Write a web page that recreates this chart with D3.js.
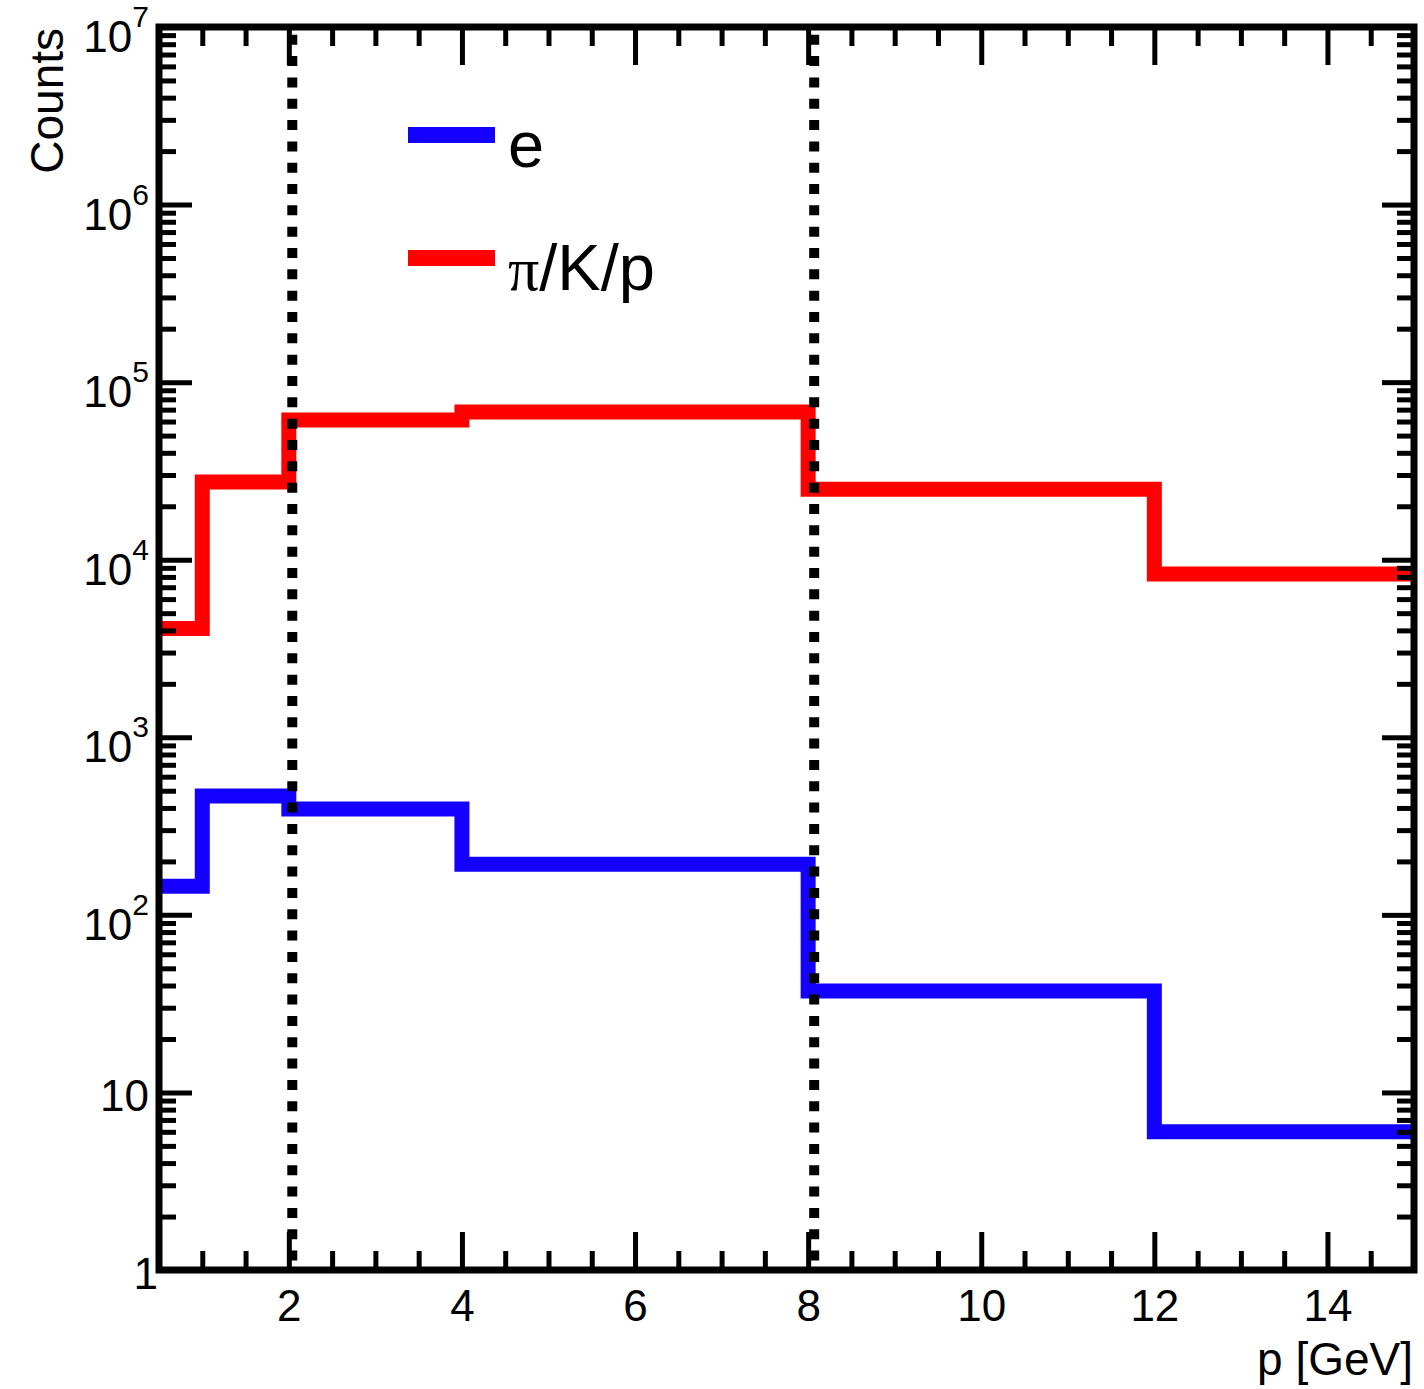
<!DOCTYPE html>
<html>
<head>
<meta charset="utf-8">
<script src="https://cdn.jsdelivr.net/npm/d3@7"></script>
<style>
  html, body { margin: 0; padding: 0; background: #fff; }
  svg { display: block; }
  text { font-family: "Liberation Sans", Arial, Helvetica, sans-serif; fill: #000; }
</style>
</head>
<body>
<svg id="chart" width="1424" height="1389"></svg>
<script>
// ---- data ----
const binEdges = [0.5, 1, 2, 4, 8, 12, 15];
const electronCounts = [145, 467, 395, 193, 37.3, 6.0];
const hadronCounts = [4100, 27400, 61200, 67900, 24900, 8300];
const seriesNames = ["e", "π/K/p"];
const cutPositions = [2.04, 8.07];
const xMajorTicks = [2, 4, 6, 8, 10, 12, 14];
const xMinorTicks = [1, 1.5, 2.5, 3, 3.5, 4.5, 5, 5.5, 6.5, 7, 7.5, 8.5, 9, 9.5, 10.5, 11, 11.5, 12.5, 13, 13.5, 14.5];
const yDecades = [0, 1, 2, 3, 4, 5, 6, 7];
const xTitle = "p [GeV]";
const yTitle = "Counts";

// ---- layout ----
const L = 159, R = 1414, T = 27, B = 1270;
const svg = d3.select("#chart");
const x = d3.scaleLinear().domain([0.5, 15]).range([L, R]);
const y = d3.scaleLog().domain([1, 1e7]).range([B, T]);

const yMinor = [];
for (let k = 0; k < 7; k++) for (let m = 2; m <= 9; m++) yMinor.push(m * Math.pow(10, k));
const yMajor = yDecades.map(k => Math.pow(10, k));

// clip
svg.append("defs").append("clipPath").attr("id", "clip")
  .append("rect").attr("x", L).attr("y", T).attr("width", R - L).attr("height", B - T);

// ---- histograms ----
const line = d3.line().x(d => x(d[0])).y(d => y(d[1])).curve(d3.curveStepAfter);
function histPoints(vals) {
  const pts = vals.map((v, i) => [binEdges[i], v]);
  pts.push([binEdges[binEdges.length - 1], vals[vals.length - 1]]);
  return pts;
}
const g = svg.append("g").attr("clip-path", "url(#clip)");
const series = [
  { vals: hadronCounts, color: "#ff0000" },
  { vals: electronCounts, color: "#1400ff" }
];
series.forEach(s => {
  g.append("path").attr("d", line(histPoints(s.vals)))
    .attr("fill", "none").attr("stroke", s.color).attr("stroke-width", 15)
    .attr("stroke-linejoin", "miter").attr("stroke-linecap", "square");
});

// ---- dotted cut lines ----
cutPositions.forEach(c => {
  g.append("line").attr("x1", x(c)).attr("x2", x(c)).attr("y1", T).attr("y2", B)
    .attr("stroke", "#000").attr("stroke-width", 10)
    .attr("stroke-dasharray", "10 11.33").attr("stroke-dashoffset", 13.6);
});

// ---- axes (ticks) ----
function styleAxis(sel) {
  sel.select(".domain").remove();
  sel.selectAll(".tick line").attr("stroke", "#000").attr("stroke-width", 5);
}
svg.append("g").attr("transform", `translate(0,${B})`)
  .call(d3.axisBottom(x).tickValues(xMinorTicks).tickSize(-19).tickFormat(""))
  .call(styleAxis);
const xb = svg.append("g").attr("transform", `translate(0,${B})`)
  .call(d3.axisBottom(x).tickValues(xMajorTicks).tickSize(-38).tickPadding(20).tickFormat(d3.format("d")))
  .call(styleAxis);
xb.selectAll(".tick text").style("font-size", "44px").style("font-family", "Liberation Sans, Arial, sans-serif").attr("fill", "#000");

svg.append("g").attr("transform", `translate(0,${T})`)
  .call(d3.axisTop(x).tickValues(xMinorTicks).tickSize(-19).tickFormat(""))
  .call(styleAxis);
svg.append("g").attr("transform", `translate(0,${T})`)
  .call(d3.axisTop(x).tickValues(xMajorTicks).tickSize(-38).tickFormat(""))
  .call(styleAxis);

svg.append("g").attr("transform", `translate(${L},0)`)
  .call(d3.axisLeft(y).tickValues(yMinor).tickSize(-17).tickFormat(""))
  .call(styleAxis);
svg.append("g").attr("transform", `translate(${L},0)`)
  .call(d3.axisLeft(y).tickValues(yMajor).tickSize(-33).tickFormat(""))
  .call(styleAxis);
svg.append("g").attr("transform", `translate(${R},0)`)
  .call(d3.axisRight(y).tickValues(yMinor).tickSize(-17).tickFormat(""))
  .call(styleAxis);
svg.append("g").attr("transform", `translate(${R},0)`)
  .call(d3.axisRight(y).tickValues(yMajor).tickSize(-32).tickFormat(""))
  .call(styleAxis);

// ---- frame ----
svg.append("rect").attr("x", L).attr("y", T).attr("width", R - L).attr("height", B - T)
  .attr("fill", "none").attr("stroke", "#000").attr("stroke-width", 7);

// ---- y tick labels ----
yDecades.forEach(k => {
  const ty = y(Math.pow(10, k));
  if (k <= 1) {
    svg.append("text").attr("x", k === 0 ? 158 : 149).attr("y", ty + 19)
      .attr("text-anchor", "end").style("font-size", "44px")
      .text(k === 0 ? "1" : "10");
  } else {
    const t = svg.append("text").attr("x", 149).attr("y", ty + 25)
      .attr("text-anchor", "end").style("font-size", "44px");
    t.append("tspan").text("10");
    t.append("tspan").attr("dy", -25).style("font-size", "30px").text(String(k));
  }
});

// ---- axis titles ----
svg.append("text").attr("x", 1413).attr("y", 1375).attr("text-anchor", "end")
  .style("font-size", "46px").text(xTitle);
svg.append("text").attr("transform", "translate(63,28) rotate(-90)")
  .attr("text-anchor", "end").style("font-size", "46px").text(yTitle);

// ---- legend ----
const legendColors = ["#1400ff", "#ff0000"];
const legendY = [135, 258];
seriesNames.forEach((name, i) => {
  svg.append("line").attr("x1", 408).attr("x2", 495).attr("y1", legendY[i]).attr("y2", legendY[i])
    .attr("stroke", legendColors[i]).attr("stroke-width", 16);
  const t = svg.append("text").attr("x", 508).attr("y", legendY[i] + 32).style("font-size", "65px");
  if (name.startsWith("π")) {
    t.append("tspan").style("font-family", "Liberation Serif, serif").style("font-size", "62px").text("π");
    t.append("tspan").text(name.slice(1));
  } else {
    t.text(name);
  }
});
</script>
</body>
</html>
